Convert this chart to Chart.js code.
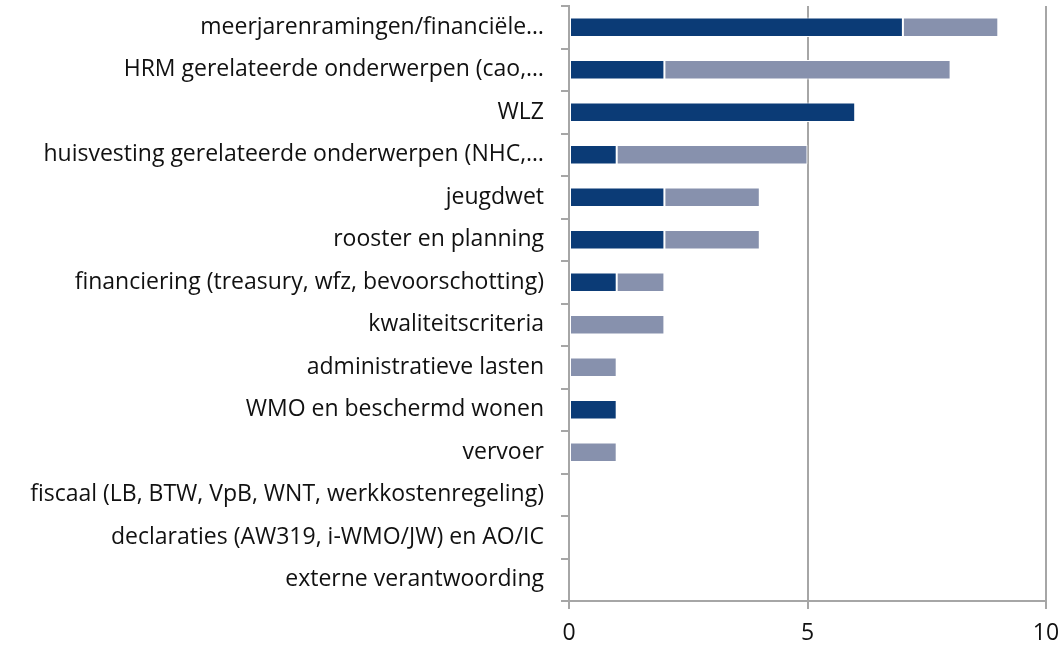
<!DOCTYPE html>
<html>
<head>
<meta charset="utf-8">
<script src="https://cdn.jsdelivr.net/npm/chart.js@4/dist/chart.umd.min.js"></script>
<style>
  html, body { margin: 0; padding: 0; background: #fff; }
  #wrap { width: 1064px; height: 648px; position: relative; }
</style>
</head>
<body>
<div id="wrap"><canvas id="c" width="1064" height="648"></canvas></div>
<script>
const categories = [
  "meerjarenramingen/financiële…",
  "HRM gerelateerde onderwerpen (cao,…",
  "WLZ",
  "huisvesting gerelateerde onderwerpen (NHC,…",
  "jeugdwet",
  "rooster en planning",
  "financiering (treasury, wfz, bevoorschotting)",
  "kwaliteitscriteria",
  "administratieve lasten",
  "WMO en beschermd wonen",
  "vervoer",
  "fiscaal (LB, BTW, VpB, WNT, werkkostenregeling)",
  "declaraties (AW319, i-WMO/JW) en AO/IC",
  "externe verantwoording"
];
const seriesDark  = [7, 2, 6, 1, 2, 2, 1, 0, 0, 1, 0, 0, 0, 0];
const seriesLight = [2, 6, 0, 4, 2, 2, 1, 2, 1, 0, 1, 0, 0, 0];
const xTicks = [0, 5, 10];

const FONT = "'Open Sans', sans-serif";

new Chart(document.getElementById('c'), {
  type: 'bar',
  data: {
    labels: categories,
    datasets: [
      { label: 'A', data: seriesDark, backgroundColor: '#0B3B76', borderColor: '#ffffff', borderWidth: 1, borderSkipped: false, barPercentage: 0.46, categoryPercentage: 1 },
      { label: 'B', data: seriesLight, backgroundColor: '#8791AD', borderColor: '#ffffff', borderWidth: 1, borderSkipped: false, barPercentage: 0.46, categoryPercentage: 1 }
    ]
  },
  options: {
    indexAxis: 'y',
    responsive: false,
    animation: false,
    devicePixelRatio: 1,
    layout: { padding: { top: 6, right: 18, left: 0, bottom: 0 } },
    plugins: { legend: { display: false }, tooltip: { enabled: false } },
    scales: {
      x: {
        stacked: true,
        min: 0, max: 10,
        afterBuildTicks: (s) => { s.ticks = xTicks.map(v => ({ value: v })); },
        afterFit: (s) => { s.height = 47; s.paddingLeft = 0; s.paddingRight = 0; },
        grid: { color: '#A6A6A6', lineWidth: 2, drawTicks: true, tickLength: 8, tickColor: '#A6A6A6' },
        border: { display: true, color: '#A6A6A6', width: 2 },
        ticks: { color: '#111', font: { family: FONT, size: 23 }, padding: 11, maxRotation: 0 }
      },
      y: {
        stacked: true,
        afterFit: (s) => { s.width = 569; s.paddingTop = 0; s.paddingBottom = 0; },
        grid: { drawOnChartArea: false, drawTicks: true, tickLength: 8, color: '#A6A6A6', lineWidth: 2, offset: true },
        border: { display: true, color: '#A6A6A6', width: 2 },
        ticks: { color: '#111', font: { family: FONT, size: 23 }, padding: 17, autoSkip: false }
      }
    }
  }
});
</script>
</body>
</html>
